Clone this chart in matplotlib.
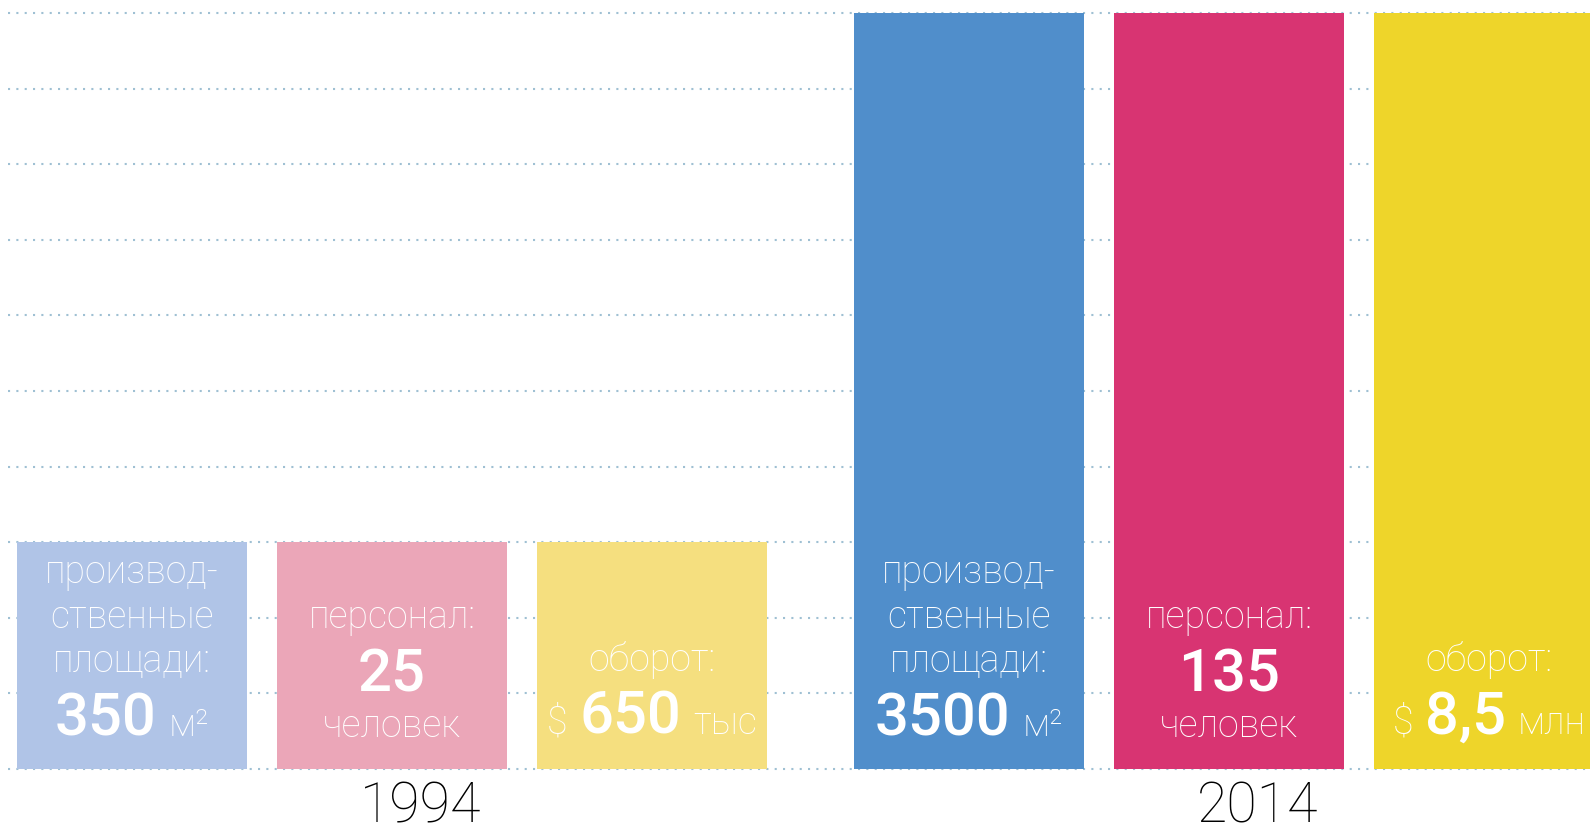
import numpy as np
import matplotlib.pyplot as plt

# bar heights in grid units (the picture is schematic, not to scale)
years = ['1994', '2014']
heights = {'1994': [3, 3, 3], '2014': [10, 10, 10]}
colors = {'1994': ['#b0c4e7', '#eba6b8', '#f5df7f'],
          '2014': ['#508ecb', '#d83472', '#eed52a']}

titles = [['производ-', 'ственные', 'площади:'], ['персонал:'], ['оборот:']]
numbers = {'1994': ['350', '25', '650'], '2014': ['3500', '135', '8,5']}
prefixes = ['', '', '$']
units = {'1994': ['м²', 'человек', 'тыс'], '2014': ['м²', 'человек', 'млн']}

# layout (grid units: x step = 260px, y step = 75.6px)
px_x, px_y = 260.0, 75.6
group_gap = 837 / px_x
bar_w = 230 / px_x
title_y = [2.46, 1.865, 1.296]     # baseline of first title line
number_y = [0.437, 1.019, 0.463]
unit_y = [None, 0.423, None]       # None -> unit on the number line
line_step = 0.59

font = 'Roboto'
thin = dict(family=font, weight='light', size=27, color='white')
bold = dict(family=font, weight='medium', size=43, color='white')

fig = plt.figure(figsize=(15.9, 8.35), dpi=100)
ax = fig.add_axes([0, 0, 1, 1])
ax.set_xlim(-132 / px_x, (1590 - 132) / px_x)
ax.set_ylim(-(835 - 769) / px_y, 769 / px_y)
ax.axis('off')

# dotted grid
for gy in range(11):
    ax.plot([(8 - 132) / px_x, 10], [gy, gy], color='#9fc0d3', lw=1.5,
            linestyle=(0, (1, 3)), zorder=0)

renderer = fig.canvas.get_renderer()


def width_px(s, props):
    t = ax.text(0, 0, s, **props)
    w = t.get_window_extent(renderer).width
    t.remove()
    return w


def row(xc, y, parts, gap=12):
    # parts: list of (text, props); drawn side by side, centred on xc
    ws = [width_px(s, p) for s, p in parts]
    total = sum(ws) + gap * (len(parts) - 1)
    off = -total / 2
    for (s, p), w in zip(parts, ws):
        ax.annotate(s, (xc, y), xytext=(off, 0), textcoords='offset pixels',
                    ha='left', va='baseline', **p)
        off += w + gap


for g, year in enumerate(years):
    xs = g * group_gap + np.arange(3)
    ax.bar(xs, heights[year], width=bar_w, color=colors[year], zorder=2)
    for i, xc in enumerate(xs):
        for k, line in enumerate(titles[i]):
            ax.text(xc, title_y[i] - k * line_step, line, ha='center',
                    va='baseline', zorder=3, **thin)
        parts = []
        if prefixes[i]:
            parts.append((prefixes[i], thin))
        parts.append((numbers[year][i], bold))
        if unit_y[i] is None:
            parts.append((units[year][i], thin))
            row(xc, number_y[i], parts)
        else:
            row(xc, number_y[i], parts)
            ax.text(xc, unit_y[i], units[year][i], ha='center',
                    va='baseline', **thin)
    ax.text(xs[1] + 29 / px_x, -0.705, year, ha='center', va='baseline',
            family=font, weight=100, size=40, color='black')

fig.savefig('out.png', dpi=100)
